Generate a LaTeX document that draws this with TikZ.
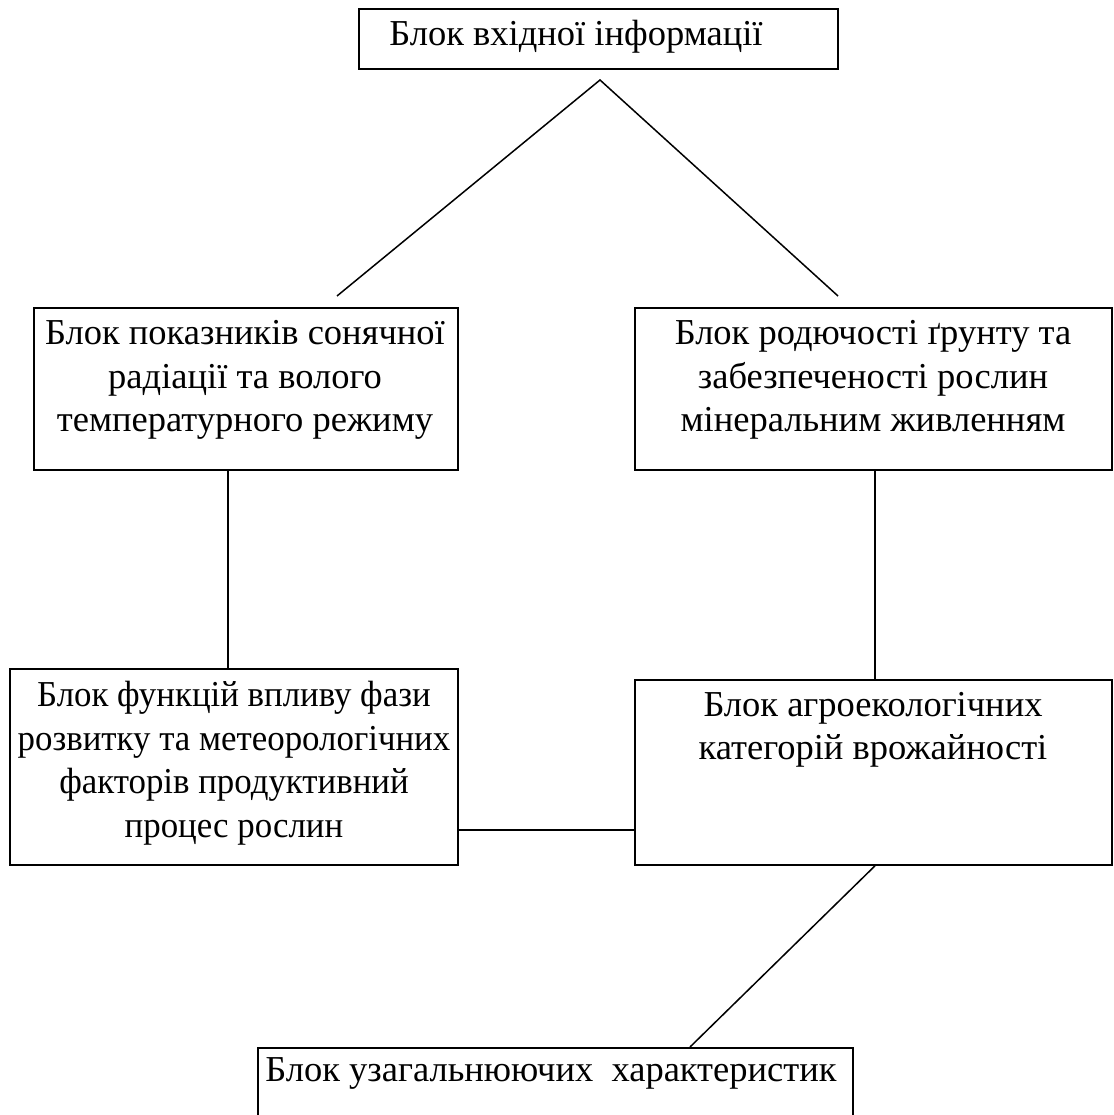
\documentclass[tikz,border=0pt]{standalone}
\usepackage{fontspec}
\setmainfont{Liberation Serif}
\newfontfamily\narrowserif[FakeStretch=0.955]{Liberation Serif}
\usetikzlibrary{calc}
\begin{document}
\begin{tikzpicture}[x=1pt,y=-1pt,
  box/.style={draw, line width=1.8pt, inner sep=0pt, anchor=north west},
  txt/.style={align=center, inner sep=0pt, font=\fontsize{36.5}{43.5}\selectfont},
  conn/.style={line width=1.5pt}]
\useasboundingbox (0,0) rectangle (1113,1115);
\clip (0,0) rectangle (1113,1115);
\fill[white] (0,0) rectangle (1113,1115);

\node[box, minimum width=479pt, minimum height=60pt] (top) at (358,8) {};
\node[box, minimum width=424pt, minimum height=162pt] (L1) at (33,307) {};
\node[box, minimum width=477pt, minimum height=162pt] (R1) at (634,307) {};
\node[box, minimum width=448pt, minimum height=196pt] (L2) at (9,668) {};
\node[box, minimum width=477pt, minimum height=185pt] (R2) at (634,679) {};
\node[box, minimum width=595pt, minimum height=100pt] (B) at (257,1047) {};

\node[txt] (ttop) at (576,37) {Блок вхідної інформації};
\node[txt] (tL1) at (245,380) {Блок показників сонячної\\радіації та волого\\температурного режиму};
\node[txt] (tR1) at (873,380) {Блок родючості ґрунту та\\забезпеченості рослин\\мінеральним живленням};
\node[txt, font=\narrowserif\fontsize{36.5}{43.5}\selectfont] (tL2) at (234,763) {Блок функцій впливу фази\\розвитку та метеорологічних\\факторів продуктивний\\процес рослин};
\node[txt] (tR2) at (873,730) {Блок агроекологічних\\категорій врожайності};
\node[txt] (tB) at (551,1073) {Блок узагальнюючих\ \ характеристик};

\coordinate (apex) at (600,80);
\coordinate (aL) at (337,296);
\coordinate (aR) at (838,296);
\draw[conn] (aL) -- (apex) -- (aR);

\draw[conn] ([xshift=195pt]L1.south west) -- ([xshift=195pt]L1.south west |- L2.north);
\draw[conn] ([xshift=241pt]R1.south west) -- ([xshift=241pt]R1.south west |- R2.north);
\draw[conn] ([yshift=36pt]L2.south east) -- ([yshift=36pt]L2.south east -| R2.west);
\draw[conn] ([xshift=241pt]R2.south west) -- ([xshift=433pt]B.north west);
\end{tikzpicture}
\end{document}
